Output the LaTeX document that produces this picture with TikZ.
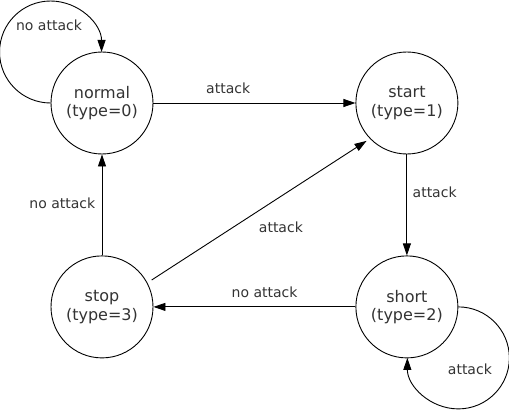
\documentclass[tikz,border=0pt]{standalone}
\usepackage{fontspec}
\setsansfont{DejaVu Sans}
\usetikzlibrary{shapes.geometric, arrows.meta, positioning}
\tikzstyle{statenode} = [circle, draw, line width=0.9pt, minimum size=102pt, inner sep=0pt,
     align=center, text=black!80, font=\sffamily\fontsize{16pt}{18.5pt}\selectfont]
\tikzstyle{arrow} = [line width=0.9pt, -{Triangle[length=12pt,width=8pt]}]
\tikzstyle{lbl} = [text=black!80, font=\sffamily\fontsize{14pt}{17pt}\selectfont]

\begin{document}
\begin{tikzpicture}[node distance = 202pt]
     \useasboundingbox (-102pt,103pt) rectangle (407pt,-312pt);
     % Nodes
     \node [statenode] (normal) {normal\\(type=0)};
     \node [statenode, right=202pt of normal] (start) {start\\(type=1)};
     \node [statenode, below=101pt of start] (short) {short\\(type=2)};
     \node [statenode, below=101pt of normal] (stop) {stop\\(type=3)};
     \node [lbl] (lnormal) at ([xshift=-53pt, yshift=78pt]normal.center) {no attack};
     \node [lbl] (lshort) at ([xshift=63pt, yshift=-62pt]short.center) {attack};

     % Arrows
     \draw [arrow] (normal) -- node[lbl, pos=.37, above=6pt] {attack} (start);
     \draw [arrow] (start) -- node[lbl, pos=.37, right=2pt] {attack} (short);
     \draw [arrow] (short) -- node[lbl, pos=.45, above=5pt] {no attack} (stop);
     \draw [arrow] (stop) -- node[lbl, pos=.52, left=3pt] {no attack} (normal);
     \draw [arrow, shorten <=5pt, shorten >=4pt] (stop.28) -- node[lbl, pos=.6, below=22pt] {attack} (start.224);
     \draw [arrow] (normal.west) arc[start angle=270, end angle=0, radius=51pt];
     \draw [arrow] (short.east) arc[start angle=90, end angle=-180, radius=51pt];
\end{tikzpicture}
\end{document}
